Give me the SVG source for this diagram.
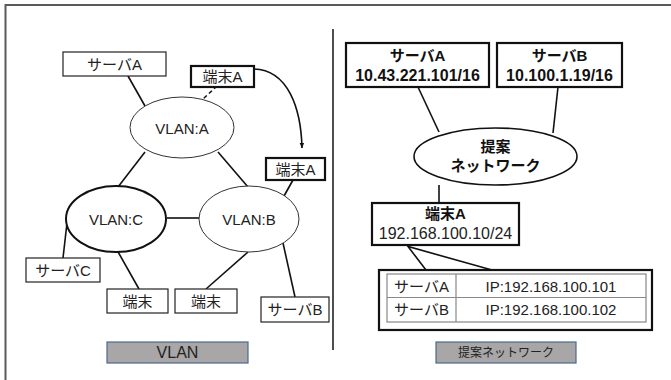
<svg xmlns="http://www.w3.org/2000/svg" width="671" height="380" viewBox="0 0 671 380">
<defs>
<style>
text{font-family:"Liberation Sans","Noto Sans CJK JP",sans-serif;fill:#222;text-anchor:middle;dominant-baseline:central}
.t15{font-size:15px}
.t16{font-size:16px}
.b{font-weight:bold;fill:#111}
.box{fill:#fff;stroke:#222;stroke-width:1.2}
.tbox{fill:#fff;stroke:#111;stroke-width:2.2}
.ell{fill:#fff;stroke:#333;stroke-width:1}
.tell{fill:#fff;stroke:#111;stroke-width:2}
.ln{stroke:#111;stroke-width:1.6;fill:none}
.lbl{fill:#a8a6a6;stroke:#4d6a8a;stroke-width:1.2}
.grid{fill:none;stroke:#888;stroke-width:1.2}
</style>
<marker id="ah" viewBox="0 0 10 10" refX="9" refY="5" markerWidth="6" markerHeight="6" orient="auto-start-reverse" markerUnits="userSpaceOnUse">
<path d="M0,1 L10,5 L0,9 z" fill="#111"/>
</marker>
</defs>
<rect width="671" height="380" fill="#fff"/>
<g id="frame">
<path d="M5.5,380 V5 H671" fill="none" stroke="#5a5a5a" stroke-width="2"/>
<line x1="333" y1="29" x2="333" y2="350" stroke="#222" stroke-width="1.6"/>
</g>
<g id="connectors">
<line class="ln" x1="128" y1="76" x2="145" y2="106"/>
<line class="ln" x1="217" y1="86" x2="203" y2="99" stroke-dasharray="4,3"/>
<path class="ln" d="M254,69 C288,70 301,108 302,148" marker-end="url(#ah)"/>
<line class="ln" x1="145" y1="152" x2="118" y2="187"/>
<line class="ln" x1="218" y1="152" x2="248" y2="187"/>
<line class="ln" x1="167" y1="218" x2="199" y2="218"/>
<line class="ln" x1="293" y1="180" x2="284" y2="196"/>
<line class="ln" x1="67" y1="223" x2="63" y2="258"/>
<line class="ln" x1="117" y1="250" x2="139" y2="289"/>
<line class="ln" x1="248" y1="252" x2="206" y2="289"/>
<line class="ln" x1="283" y1="243" x2="295" y2="297"/>
<line class="ln" x1="418" y1="87" x2="439" y2="132"/>
<line class="ln" x1="558" y1="87" x2="553" y2="133"/>
<line class="ln" x1="439" y1="185" x2="439" y2="203"/>
<path class="ln" d="M426,270 L408,246.5 L492,270"/>
</g>
<g id="vlan-serverA"><rect class="box" x="63" y="52" width="103" height="24"/><text class="t15" x="114.5" y="64">サーバA</text></g>
<g id="vlan-termA"><rect class="tbox" x="191" y="66" width="63" height="21"/><text class="t15" x="222.5" y="76.5">端末A</text></g>
<g id="vlanA"><ellipse class="ell" cx="182" cy="127.5" rx="52" ry="30.5"/><text class="t15" x="182" y="128">VLAN:A</text></g>
<g id="vlan-termA2"><rect class="tbox" x="266" y="158" width="59" height="22"/><text class="t15" x="295.5" y="169">端末A</text></g>
<g id="vlanC"><ellipse class="tell" cx="116" cy="219" rx="50" ry="33"/><text class="t15" x="116" y="219">VLAN:C</text></g>
<g id="vlanB"><ellipse class="ell" cx="249" cy="219" rx="50" ry="33"/><text class="t15" x="249" y="219">VLAN:B</text></g>
<g id="vlan-serverC"><rect class="box" x="26" y="258" width="74" height="24"/><text class="t15" x="63" y="270">サーバC</text></g>
<g id="vlan-term1"><rect class="box" x="107" y="289" width="61" height="24"/><text class="t15" x="137.5" y="301">端末</text></g>
<g id="vlan-term2"><rect class="box" x="175" y="289" width="62" height="24"/><text class="t15" x="206" y="301">端末</text></g>
<g id="vlan-serverB"><rect class="box" x="261" y="297" width="68" height="25"/><text class="t15" x="295" y="309.5">サーバB</text></g>
<g id="label-vlan"><rect class="lbl" x="107" y="342" width="141" height="21"/><text class="t16" x="177.5" y="352.5">VLAN</text></g>
<g id="prop-serverA"><rect class="tbox" x="346" y="43" width="143" height="44"/><text class="t15 b" x="417.5" y="55">サーバA</text><text class="t16 b" x="417.5" y="75">10.43.221.101/16</text></g>
<g id="prop-serverB"><rect class="tbox" x="497" y="43" width="125" height="44"/><text class="t15 b" x="559.5" y="55">サーバB</text><text class="t16 b" x="559.5" y="75">10.100.1.19/16</text></g>
<g id="prop-net"><ellipse fill="#fff" stroke="#111" stroke-width="1.6" cx="495.5" cy="156.5" rx="81.5" ry="28.5"/><text class="t15 b" x="495.5" y="146.5">提案</text><text class="t15 b" x="495.5" y="165">ネットワーク</text></g>
<g id="prop-termA"><rect class="tbox" x="372" y="203" width="147" height="42"/><text class="t15 b" x="445.5" y="213.5">端末A</text><text class="t16" x="445.5" y="233.5">192.168.100.10/24</text></g>
<g id="prop-table">
<rect class="tbox" x="379" y="270" width="273" height="60"/>
<rect class="grid" x="387" y="274" width="259" height="48"/>
<line class="grid" x1="387" y1="297.5" x2="646" y2="297.5"/>
<line class="grid" x1="456" y1="274" x2="456" y2="322"/>
<text class="t15" x="421.5" y="286">サーバA</text>
<text class="t15" x="551" y="286">IP:192.168.100.101</text>
<text class="t15" x="421.5" y="309.5">サーバB</text>
<text class="t15" x="551" y="309.5">IP:192.168.100.102</text>
</g>
<g id="label-prop"><rect class="lbl" x="436" y="342" width="140" height="21"/><text x="506" y="352.5" style="font-size:12px">提案ネットワーク</text></g>
</svg>
